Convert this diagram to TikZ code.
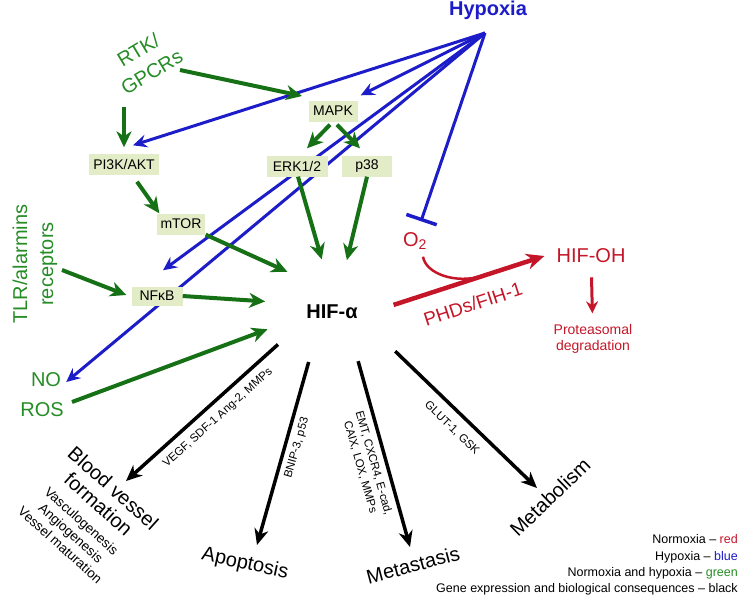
\documentclass[tikz,border=0pt]{standalone}
\usepackage{fontspec}
\setmainfont{Liberation Sans}
\usetikzlibrary{arrows.meta, positioning, shapes.geometric, calc, backgrounds}

\definecolor{hypblue}{RGB}{28,28,200}
\definecolor{grntxt}{RGB}{38,140,38}
\definecolor{grnarr}{RGB}{22,112,22}
\definecolor{nred}{RGB}{196,22,40}
\definecolor{boxfill}{RGB}{226,236,198}

\tikzset{
    kinase/.style={
        rectangle,
        fill=boxfill,
        inner xsep=4pt,
        inner ysep=0pt,
        minimum height=21pt,
        font=\fontsize{14}{16}\selectfont
    },
    grnlabel/.style={
        text=grntxt,
        inner sep=0pt,
        font=\fontsize{20}{26}\selectfont
    },
    outcome/.style={
        inner sep=0pt,
        align=center,
        font=\fontsize{20}{22}\selectfont
    },
    genes/.style={
        inner sep=0pt,
        align=center,
        font=\fontsize{11.5}{14}\selectfont
    },
    redlabel/.style={
        text=nred,
        inner sep=0pt,
        font=\fontsize{20}{24}\selectfont
    },
    act/.style={
        draw=grnarr,
        line width=4pt,
        -{Stealth[length=16pt,width=15pt,inset=5pt]}
    },
    hypo/.style={
        draw=hypblue,
        line width=3pt,
        -{Stealth[length=14pt,width=13pt,inset=5pt]}
    },
    cons/.style={
        draw=black,
        line width=3.5pt,
        -{Stealth[length=16pt,width=14pt,inset=5pt]}
    },
    norm/.style={
        draw=nred,
        line width=4.5pt,
        -{Stealth[length=18pt,width=16pt,inset=6pt]}
    }
}

\begin{document}
\begin{tikzpicture}[x=1pt, y=-1pt]

\useasboundingbox (0,0) rectangle (739,595);

\node[font=\bfseries\fontsize{20}{24}\selectfont, text=hypblue, inner sep=0pt] (hyp) at (488,10) {Hypoxia};
\coordinate (hsrc) at (485,33);

\node[grnlabel, align=center, rotate=31] (rtk) at (145,61) {RTK/\\GPCRs};
\node[kinase, minimum width=69pt] (pik) at (124,164) {PI3K/AKT};
\node[kinase, minimum width=49pt] (mapk) at (333,111) {MAPK};
\node[kinase, minimum width=61pt] (erk) at (297,166) {ERK1/2};
\node[kinase, minimum width=50pt] (p38) at (367,166) {p38};
\node[kinase, minimum width=48pt] (mtor) at (181,224) {mTOR};
\node[kinase, minimum width=51pt, minimum height=19pt] (nfkb) at (157,296) {NFκB};
\node[grnlabel, align=center, rotate=90] (tlr) at (35,264) {TLR/alarmins\\receptors};
\node[grnlabel] (no) at (46,380) {NO};
\node[grnlabel] (ros) at (42,410) {ROS};

\node[ellipse, minimum width=136pt, minimum height=106pt, inner sep=0pt, font=\bfseries\fontsize{20}{24}\selectfont] (hif) at (332,312) {HIF-α};

\node[redlabel] (otwo) at (415,241) {O\textsubscript{2}};
\node[redlabel] (hifoh) at (591,256) {HIF-OH};
\node[redlabel, rotate=18, font=\fontsize{19}{22}\selectfont] (phd) at (473,304) {PHDs/FIH-1};
\node[redlabel, align=center, font=\fontsize{14}{16}\selectfont] (prot) at (593,339) {Proteasomal\\degradation};
\coordinate (join) at (482,276);

\node[genes, rotate=42] (vegf) at (218,418) {VEGF, SDF-1 Ang-2, MMPs};
\node[genes, rotate=74] (bnip) at (297,448) {BNIP-3, p53};
\node[genes, rotate=-74] (emt) at (367,465) {EMT, CXCR4, E-cad,\\CAIX, LOX, MMPs};
\node[genes, rotate=-44] (glut) at (452,428) {GLUT-1, GSK};

\node[outcome, rotate=-42] (bvf) at (106,496) {Blood vessel\\formation};
\node[inner sep=0pt, align=center, rotate=-42, font=\fontsize{13.5}{16}\selectfont] (bvsub) at (71,533) {Vasculogenesis\\Angiogenesis\\Vessel maturation};
\node[outcome, rotate=-12] (apo) at (245,564) {Apoptosis};
\node[outcome, rotate=15] (meta) at (413,565) {Metastasis};
\node[outcome, rotate=44] (metab) at (550,497) {Metabolism};

\node[anchor=east, align=right, inner sep=0pt, font=\fontsize{12.5}{16.3}\selectfont] (key) at (738,565)
    {Normoxia – {\color{nred}red}\\Hypoxia – {\color{hypblue}blue}\\Normoxia and hypoxia – {\color{grntxt}green}\\Gene expression and biological consequences – black};

% hypoxia signals
\begin{scope}[on background layer]
\draw[hypo] (hsrc) -- ([xshift=9pt,yshift=8pt]pik.north);
\draw[hypo] (hsrc) -- ([xshift=3pt,yshift=5pt]mapk.north east);
\draw[hypo] (hsrc) -- ([xshift=6pt,yshift=16pt]nfkb.north);
\draw[hypo] (hsrc) -- ([xshift=5pt,yshift=-2pt]no.east);
\draw[draw=hypblue, line width=3pt, -{Bar[width=32pt,line width=3.5pt]}] (hsrc) -- ([xshift=6pt,yshift=11pt]otwo.north);
\end{scope}

% shared pathways
\draw[act] ([xshift=35pt,yshift=-9pt]rtk.center) -- ([xshift=-31pt,yshift=15pt]mapk.center);
\draw[act] ([xshift=-21pt,yshift=-46pt]rtk.center) -- ([yshift=6pt]pik.north);
\draw[act] ([xshift=13pt,yshift=-7pt]pik.south) -- ([xshift=3pt]mtor.north west);
\draw[act] ([xshift=-3pt,yshift=-3pt]mapk.south) -- ([xshift=10pt,yshift=7pt]erk.north);
\draw[act] ([xshift=4pt,yshift=-3pt]mapk.south) -- ([xshift=-7pt,yshift=7pt]p38.north);
\draw[act] ([xshift=1pt]erk.south) -- (hif.101);
\draw[act] (p38.south) -- (hif.74);
\draw[act] (mtor.south east) -- (hif.138);
\draw[act] (nfkb.east) -- (hif.171);
\draw[act] ([xshift=27pt,yshift=-6pt]tlr.center) -- ([xshift=-5pt,yshift=1pt]nfkb.west);
\draw[act] ([xshift=30pt,yshift=8pt]ros.center) -- (hif.195);

% normoxia
\draw[norm] ([xshift=-6pt]hif.6) -- ([xshift=-12pt]hifoh.west);
\draw[draw=nred, line width=2.5pt] ([xshift=8pt,yshift=-7pt]otwo.south) .. controls (426,274) and (456,284) .. (join);
\draw[draw=nred, line width=3pt, shorten <=14pt, shorten >=11pt, -{Stealth[length=12pt,width=12pt,inset=4pt]}] (hifoh) -- (prot);

% consequences
\draw[cons] (hif.211) -- ([xshift=20pt,yshift=15pt]bvf.center);
\draw[cons] (hif.245) -- ([xshift=12pt,yshift=19pt]apo.center);
\draw[cons] (hif.298) -- ([xshift=-3pt,yshift=18pt]meta.center);
\draw[cons] ([xshift=10pt,yshift=-6pt]hif.328) -- ([xshift=-13pt,yshift=9pt]metab.center);

\end{tikzpicture}
\end{document}
